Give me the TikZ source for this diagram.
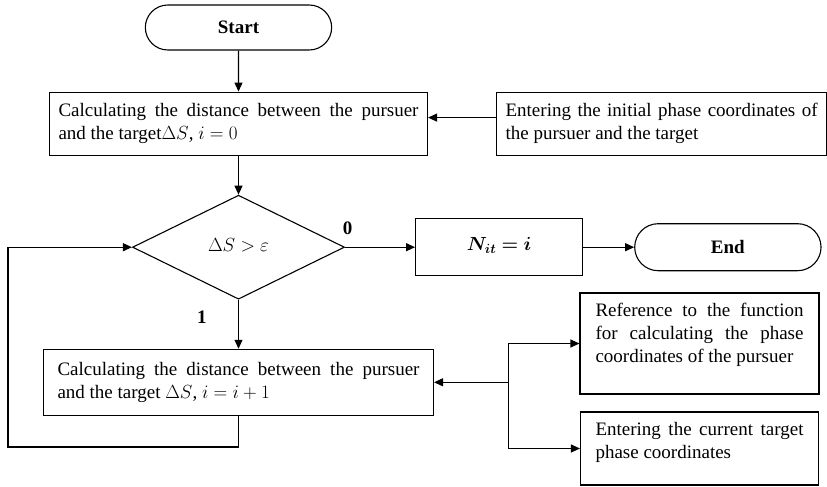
\RequirePackage{fix-cm}
\documentclass[tikz,border=0pt]{standalone}
\usepackage{fontspec}
\setmainfont{Liberation Serif}
\usepackage{bm}
\usetikzlibrary{arrows.meta,positioning,shapes.geometric,shapes.misc}
\tikzstyle{box}=[
  draw,
  rectangle,
  line width=1.1pt,
  inner sep=0pt,
  font={\fontsize{19}{23}\selectfont},
]
\tikzstyle{term}=[
  draw,
  rounded rectangle,
  line width=1.1pt,
  minimum width=193pt,
  font={\fontsize{19}{23}\selectfont\bfseries},
]
\tikzstyle{cond}=[
  draw,
  diamond,
  line width=1.1pt,
  inner sep=0pt,
  minimum width=212pt,
  minimum height=104pt,
  font={\fontsize{19}{23}\selectfont},
]
\tikzstyle{flow}=[
  ->,
  line width=1.1pt,
]
\tikzstyle{flowlabel}=[
  font={\fontsize{19}{23}\selectfont\bfseries},
]
\tikzset{
  x=1pt,
  y=-1pt,
  node distance=40pt,
  >={Triangle[length=9pt,width=8pt]},
}
\begin{document}
\begin{tikzpicture}
  \useasboundingbox (0,0) rectangle (827,487);
  \node [term, minimum height=45pt] (start) at (238.5,27.5) {Start};
  \node [box, minimum width=378pt, minimum height=63pt, text width=360pt,
  align=justify, below=41pt of start] (calc0)
  {Calculating the distance between the pursuer and the target$\Delta S$, $i=0$};
  \node [box, minimum width=330pt, minimum height=63pt, text width=312pt,
  align=justify, right=68pt of calc0] (init)
  {Entering the initial phase coordinates of the pursuer and the target};
  \node [cond, below=39pt of calc0] (test) {\raisebox{5pt}{$\Delta S>\varepsilon$}};
  \node [box, minimum width=167pt, minimum height=57pt, right=70pt of test] (nit)
  {\raisebox{6pt}{$\bm{N_{it}=i}$}};
  \node [term, minimum height=47pt, right=51pt of nit] (stop) {End};
  \node [box, minimum width=390pt, minimum height=66pt, text width=362pt,
  align=justify, below=49pt of test] (calc1)
  {Calculating the distance between the pursuer and the target $\Delta S$, $i=i+1$};
  \node [box, inner xsep=15.5pt, inner ysep=10pt] (func) at (699.5,343.5)
  {\parbox[c][81pt][t]{208pt}{Reference to the function for calculating the phase coordinates of the pursuer}};
  \node [box, inner xsep=15pt, inner ysep=10pt] (cur) at (699.5,448.5)
  {\parbox[c][53pt][t]{208pt}{Entering the current target phase coordinates}};
  \coordinate (in) at ([yshift=6pt]init.west);
  \coordinate [right=74pt of calc1.east] (fork);
  \coordinate (back) at (8,447);
  \draw [flow] (start) -- (calc0);
  \draw [flow] (calc0) -- (test);
  \draw [flow] (in) -- (in -| calc0.east);
  \draw [flow] (test)
  -- node [flowlabel, above right, pos=0, xshift=-6pt, yshift=9pt] {0} (nit);
  \draw [flow] (test)
  -- node [flowlabel, left, pos=.36, xshift=-28pt] {1} (calc1);
  \draw [flow] (nit) -- (stop);
  \draw [flow] (fork) -- (calc1.east);
  \draw [flow] (fork) |- (func);
  \draw [flow] (fork) |- (cur);
  \draw [flow] (calc1) |- (back) |- (test);
\end{tikzpicture}
\end{document}
